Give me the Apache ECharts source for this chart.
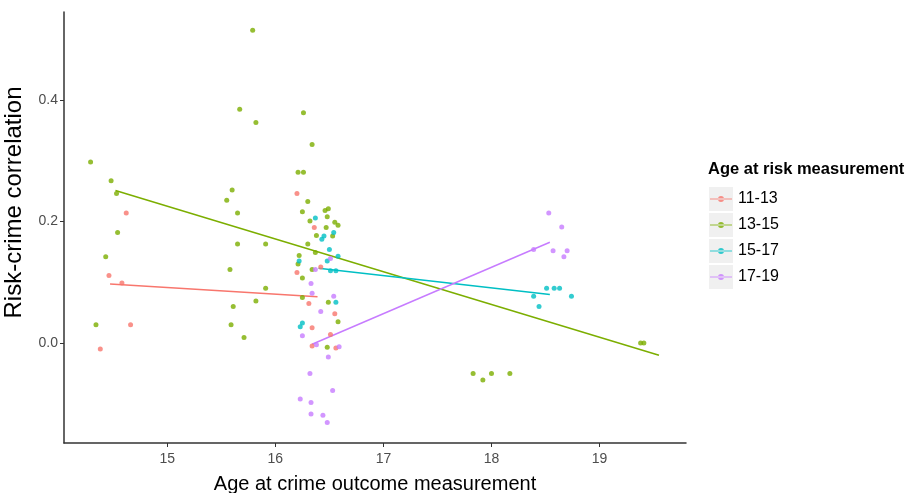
<!DOCTYPE html>
<html>
<head>
<meta charset="utf-8">
<script src="https://cdn.jsdelivr.net/npm/echarts@6/dist/echarts.min.js"></script>
<style>
  html, body { margin: 0; padding: 0; background: #fff; }
  #chart { width: 914px; height: 493px; }
</style>
</head>
<body>
<div id="chart"></div>
<script>
// groups (age at risk measurement)
var groups = ['11-13', '13-15', '15-17', '17-19'];
var colors = ['#F8766D', '#7CAE00', '#00BFC4', '#C77CFF'];

// [age at crime outcome, risk-crime correlation]
var pts1113 = [
  [14.46, 0.111], [14.58, 0.099], [14.62, 0.214], [14.66, 0.030], [14.38, -0.010],
  [16.20, 0.246], [16.36, 0.190], [16.42, 0.125], [16.20, 0.116], [16.31, 0.065],
  [16.55, 0.048], [16.34, 0.025], [16.51, 0.014], [16.34, -0.005], [16.56, -0.008]
];
var pts1315 = [
  [14.29, 0.298], [14.48, 0.267], [14.53, 0.246], [14.54, 0.182], [14.43, 0.142], [14.34, 0.030],
  [15.79, 0.515], [15.67, 0.385], [15.82, 0.363], [15.60, 0.252], [15.55, 0.235], [15.65, 0.214],
  [15.65, 0.163], [15.91, 0.163], [15.58, 0.121], [15.91, 0.090], [15.82, 0.069], [15.61, 0.060],
  [15.59, 0.030], [15.71, 0.009],
  [16.26, 0.379], [16.34, 0.327], [16.21, 0.281], [16.26, 0.281], [16.30, 0.233], [16.25, 0.216],
  [16.46, 0.218], [16.49, 0.221], [16.48, 0.208], [16.32, 0.201], [16.47, 0.190], [16.55, 0.199],
  [16.58, 0.194], [16.38, 0.177], [16.53, 0.176], [16.30, 0.163], [16.37, 0.149], [16.22, 0.144],
  [16.21, 0.130], [16.34, 0.121], [16.25, 0.107], [16.25, 0.075], [16.49, 0.067], [16.58, 0.035],
  [16.48, -0.007],
  [17.83, -0.050], [17.92, -0.061], [18.00, -0.050], [18.17, -0.050], [19.38, 0.000], [19.41, 0.000]
];
var pts1517 = [
  [16.37, 0.206], [16.45, 0.176], [16.43, 0.171], [16.54, 0.182], [16.50, 0.154], [16.58, 0.143],
  [16.22, 0.135], [16.48, 0.135], [16.51, 0.119], [16.56, 0.119], [16.56, 0.067], [16.25, 0.033],
  [16.23, 0.027],
  [18.51, 0.090], [18.58, 0.090], [18.63, 0.090], [18.39, 0.077], [18.74, 0.077], [18.44, 0.060]
];
var pts1719 = [
  [16.51, 0.139], [16.37, 0.121], [16.33, 0.098], [16.34, 0.082], [16.54, 0.077], [16.42, 0.052],
  [16.25, 0.012], [16.38, -0.003], [16.59, -0.006], [16.49, -0.023], [16.32, -0.050], [16.53, -0.078],
  [16.23, -0.092], [16.33, -0.098], [16.33, -0.117], [16.44, -0.119], [16.48, -0.131],
  [18.53, 0.214], [18.65, 0.191], [18.39, 0.154], [18.57, 0.152], [18.70, 0.152], [18.67, 0.142]
];
var points = [pts1113, pts1315, pts1517, pts1719];

// fitted lines, start and end
var fit1113 = [[14.47, 0.097], [16.39, 0.076]];
var fit1315 = [[14.52, 0.251], [19.55, -0.020]];
var fit1517 = [[16.40, 0.123], [18.54, 0.080]];
var fit1719 = [[16.34, -0.002], [18.54, 0.166]];
var fits = [fit1113, fit1315, fit1517, fit1719];

var xTicks = [15, 16, 17, 18, 19];
var yTicks = [0, 0.2, 0.4];

var font = 'Liberation Sans, Arial, sans-serif';

var series = [];
groups.forEach(function (g, i) {
  series.push({
    name: g,
    type: 'scatter',
    data: points[i],
    symbol: 'circle',
    symbolSize: 5,
    itemStyle: { color: colors[i] },
    z: 3
  });
});
groups.forEach(function (g, i) {
  series.push({
    name: g + ' fit',
    type: 'line',
    data: fits[i],
    showSymbol: false,
    symbol: 'none',
    lineStyle: { color: colors[i], width: 1.5 },
    itemStyle: { color: colors[i] },
    z: 2
  });
});

// grey key backgrounds of the legend
var legendBoxes = [];
for (var k = 0; k < groups.length; k++) {
  legendBoxes.push({
    type: 'rect',
    left: 709,
    top: 187 + k * 26,
    shape: { width: 24, height: 24 },
    style: { fill: '#f0f0f0' },
    z: 0
  });
}

var myChart = echarts.init(document.getElementById('chart'));
myChart.setOption({
  backgroundColor: '#fff',
  animation: false,
  title: {
    text: 'Age at risk measurement',
    left: 708,
    top: 161,
    padding: 0,
    textStyle: { fontFamily: font, fontSize: 16.5, fontWeight: 'bold', color: '#000' }
  },
  legend: {
    data: groups,
    orient: 'vertical',
    left: 710,
    top: 191,
    padding: 0,
    itemWidth: 22,
    itemHeight: 6,
    itemGap: 10,
    icon: 'path://M0,2.4H22V3.6H0Z M8,3a3,3 0 1,0 6,0a3,3 0 1,0 -6,0Z',
    textStyle: { fontFamily: font, fontSize: 16, color: '#000', lineHeight: 16, padding: [0, 0, 0, 1] }
  },
  graphic: legendBoxes,
  grid: { left: 64, right: 228, top: 12, bottom: 50, outerBoundsMode: 'none' },
  xAxis: {
    type: 'value',
    min: 14.044,
    max: 19.80,
    name: 'Age at crime outcome measurement',
    nameLocation: 'middle',
    nameGap: 31,
    nameTextStyle: { fontFamily: font, fontSize: 20, color: '#000' },
    splitLine: { show: false },
    axisLine: { onZero: false, lineStyle: { color: '#333', width: 1.5 } },
    axisTick: { show: true, length: 4, customValues: xTicks, lineStyle: { color: '#333' } },
    axisLabel: { customValues: xTicks, margin: 9, fontFamily: font, fontSize: 14, color: '#4d4d4d' }
  },
  yAxis: {
    type: 'value',
    min: -0.1646,
    max: 0.545,
    name: 'Risk-crime correlation',
    nameLocation: 'middle',
    nameGap: 38,
    nameTextStyle: { fontFamily: font, fontSize: 24, color: '#000', padding: [0, 0, 0, 50] },
    splitLine: { show: false },
    axisLine: { show: true, onZero: false, lineStyle: { color: '#333', width: 1.5 } },
    axisTick: { show: true, length: 4, customValues: yTicks, lineStyle: { color: '#333' } },
    axisLabel: {
      customValues: yTicks, margin: 6, fontFamily: font, fontSize: 14, color: '#4d4d4d',
      formatter: function (v) { return v.toFixed(1); }
    }
  },
  series: series
});
</script>
</body>
</html>
